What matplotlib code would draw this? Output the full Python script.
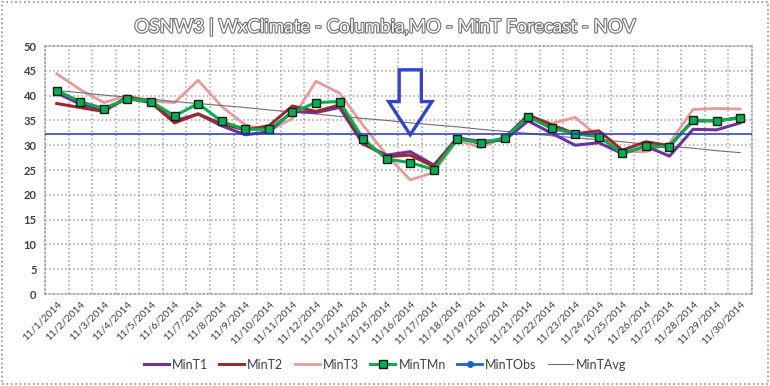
import matplotlib
matplotlib.use('Agg')
import numpy as np
from matplotlib import pyplot as plt
from matplotlib.patches import Polygon, Rectangle
import matplotlib.patheffects as pe

plt.rcParams['font.family'] = ['Lato', 'DejaVu Sans']

# dates (Nov 2014)
days = ['11/%d/2014' % d for d in range(1, 31)]

mint1 = [40.5, 38.3, 37.1, 39.4, 38.6, 34.9, 36.3, 33.9, 32.1, 32.7,
         36.8, 36.6, 37.6, 30.2, 28.0, 28.7, 26.0, 31.4, 30.8, 31.0,
         34.9, 32.4, 30.0, 30.5, 28.3, 29.8, 27.8, 33.2, 33.1, 34.5]
mint2 = [38.4, 37.6, 36.8, 39.8, 38.6, 34.5, 36.3, 34.3, 33.1, 33.9,
         37.9, 36.8, 38.1, 30.5, 27.7, 28.0, 25.7, 31.6, 30.3, 31.4,
         36.1, 34.1, 32.3, 32.9, 29.0, 30.7, 29.9, 34.9, 34.9, 35.6]
mint3 = [44.4, 41.2, 38.6, 40.0, 38.9, 38.6, 43.1, 37.8, 34.1, 32.9,
         35.4, 42.9, 40.5, 34.0, 28.0, 23.0, 24.5, 31.0, 29.5, 31.7,
         35.9, 34.4, 35.6, 31.7, 28.7, 28.7, 30.4, 37.2, 37.4, 37.3]
mintmn = [41.0, 38.8, 37.4, 39.4, 38.8, 35.9, 38.4, 34.8, 33.2, 33.2,
          36.6, 38.6, 38.8, 31.3, 27.2, 26.5, 25.1, 31.3, 30.5, 31.4,
          35.7, 33.4, 32.3, 31.7, 28.4, 29.8, 29.7, 35.1, 34.9, 35.5]
mintavg = [41.0, 40.6, 40.1, 39.7, 39.3, 38.8, 38.4, 38.0, 37.6, 37.1,
           36.7, 36.3, 35.8, 35.4, 35.0, 34.5, 34.1, 33.7, 33.2, 32.8,
           32.4, 31.9, 31.5, 31.1, 30.7, 30.2, 29.8, 29.4, 28.9, 28.5]
ref_line = 32.2      # blue horizontal marker line
arrow_day = 15       # index of 11/16/2014

fig = plt.figure(figsize=(7.7, 3.86), dpi=100)
ax = fig.add_axes([0.0584, 0.2383, 0.9182, 0.6425])

x = np.arange(len(days))
ax.plot(x, mint1, color='#7030A0', lw=2.2, label='MinT1', zorder=3)
ax.plot(x, mint2, color='#982A2A', lw=2.2, label='MinT2', zorder=3)
ax.plot(x, mint3, color='#E89A9A', lw=2.0, label='MinT3', zorder=2)
ax.plot(x, mintmn, color='#00B050', lw=2.2, marker='s', ms=6,
        mfc='#00B050', mec='#1a1a1a', mew=1.0, label='MinTMn', zorder=4)
ax.plot([], [], color='#1F5FD0', lw=2.0, marker='o', ms=4, label='MinTObs')
ax.plot(x, mintavg, color='#707070', lw=0.8, label='MinTAvg', zorder=2)

ax.axhline(ref_line, color='#2233CC', lw=1.1, zorder=5)

# down arrow
cx = arrow_day
arrow = Polygon([(cx - 0.47, 45.2), (cx + 0.47, 45.2), (cx + 0.47, 38.8),
                 (cx + 0.92, 38.8), (cx, 32.1), (cx - 0.92, 38.8),
                 (cx - 0.47, 38.8)], closed=True, fill=False,
                edgecolor='#3344CC', lw=2.4, zorder=6)
ax.add_patch(arrow)

ax.set_xlim(-0.5, len(days) - 0.5)
ax.set_ylim(0, 50)
ax.set_yticks(np.arange(0, 51, 5))
ax.set_xticks(x)
ax.set_xticklabels(days, rotation=45, ha='right', rotation_mode='anchor',
                   fontsize=7.5, color='#404040')
ax.set_xticks(np.arange(-0.5, len(days), 1), minor=True)
ax.tick_params(axis='x', which='both', length=0, pad=4)
ax.tick_params(axis='y', length=0, labelsize=8, labelcolor='#404040', pad=6)
for lab in ax.get_yticklabels():
    lab.set_fontweight('bold')
ax.grid(True, axis='y', which='major', color='#A0A0A0', ls=':', lw=1.1)
ax.grid(True, axis='x', which='minor', color='#A0A0A0', ls=':', lw=1.1)
for s in ax.spines.values():
    s.set_color('#A0A0A0')
    s.set_linestyle(':')
    s.set_linewidth(1.1)

fig.text(0.5, 0.932, 'OSNW3 | WxClimate - Columbia,MO - MinT Forecast - NOV',
         ha='center', va='center', fontsize=13.5, color='white',
         path_effects=[pe.withStroke(linewidth=1.6, foreground='#707070')])

fig.legend(loc='center', bbox_to_anchor=(0.5, 0.055), ncol=6, frameon=False,
           fontsize=9, handlelength=2.0, columnspacing=0.9, handletextpad=0.25,
           labelcolor='#404040')

fig.patches.append(Rectangle((0.003, 0.004), 0.994, 0.992, transform=fig.transFigure,
                             fill=False, edgecolor='#909090', ls=':', lw=1.2))

fig.savefig('out.png', dpi=100)
